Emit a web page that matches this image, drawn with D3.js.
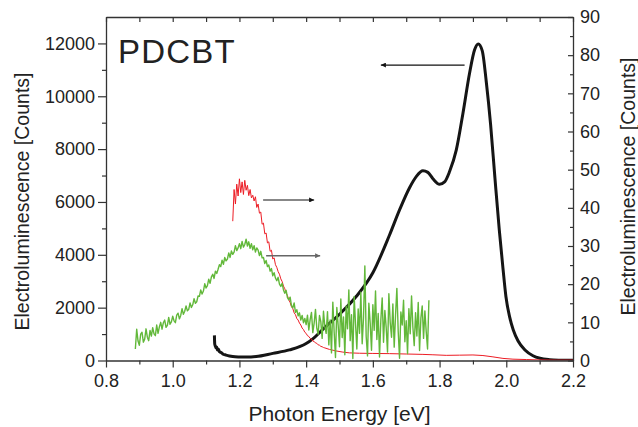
<!DOCTYPE html>
<html>
<head>
<meta charset="utf-8">
<script src="https://cdn.jsdelivr.net/npm/d3@7"></script>
<style>
  html, body { margin: 0; padding: 0; background: #fff; }
  svg { display: block; }
  text { font-family: Arial, "Liberation Sans", sans-serif; fill: #222; }
</style>
</head>
<body>
<svg id="chart" width="638" height="427"></svg>
<script>
// ---------------- DATA ----------------
const chartTitle = "PDCBT";
const xLabel = "Photon Energy [eV]";
const yLeftLabel = "Electroluminescence [Counts]";
const yRightLabel = "Electroluminescence [Counts]";

const xDomain = [0.8, 2.2];
const yLeftDomain = [0, 13000];
const yRightDomain = [0, 90];

const xTicks = [0.8, 1.0, 1.2, 1.4, 1.6, 1.8, 2.0, 2.2];
const xMinorTicks = [0.9, 1.1, 1.3, 1.5, 1.7, 1.9, 2.1];
const yLeftTicks = [0, 2000, 4000, 6000, 8000, 10000, 12000];
const yLeftMinorTicks = [1000, 3000, 5000, 7000, 9000, 11000];
const yRightTicks = [0, 10, 20, 30, 40, 50, 60, 70, 80, 90];
const yRightMinorTicks = [5, 15, 25, 35, 45, 55, 65, 75, 85];

// Black spectrum (left axis)
const blackEnergy = [1.125, 1.126, 1.128, 1.130, 1.132, 1.134, 1.137, 1.140, 1.145, 1.150, 1.160, 1.170, 1.180, 1.200, 1.220, 1.250, 1.300, 1.350, 1.400, 1.420, 1.450, 1.500, 1.550, 1.600, 1.650, 1.680, 1.710, 1.730, 1.750, 1.765, 1.780, 1.800, 1.815, 1.830, 1.850, 1.870, 1.890, 1.905, 1.916, 1.928, 1.940, 1.953, 1.966, 1.979, 1.990, 1.999, 2.010, 2.021, 2.035, 2.056, 2.080, 2.101, 2.130, 2.160, 2.200];
const blackCounts = [950, 620, 540, 470, 510, 400, 430, 330, 300, 250, 205, 170, 150, 135, 130, 150, 270, 400, 640, 820, 1180, 1750, 2420, 3320, 4750, 5700, 6540, 6960, 7180, 7120, 6880, 6670, 6760, 7150, 7960, 9350, 10880, 11760, 11980, 11720, 10550, 8930, 6900, 4940, 3500, 2415, 1650, 1155, 750, 397, 180, 83, 30, 12, 5];

// Green spectrum (right axis), sampled every 0.004 eV starting at 0.888 eV
const greenStart = 0.888;
const greenStep = 0.004;
const greenCounts = [
  3.0, 8.2, 5.1, 4.0, 6.9, 7.4, 4.8, 5.6, 8.3, 6.1, 5.2, 7.9, 6.4, 8.6, 7.0, 6.5,
  9.3, 7.1, 8.8, 10.0, 8.2, 9.9, 10.6, 8.7, 9.2, 11.3, 9.5, 10.1, 11.6, 10.4, 9.9, 11.9,
  12.4, 10.9, 11.8, 13.6, 12.1, 12.9, 14.3, 13.0, 13.4, 15.1, 13.9, 14.6, 16.2, 15.0, 15.4, 16.9,
  16.8, 18.5, 17.4, 18.2, 20.1, 19.0, 19.6, 21.3, 20.2, 21.9, 22.6, 21.5, 23.4, 22.8, 23.9, 25.1,
  24.6, 26.3, 25.2, 27.0, 26.1, 26.6, 28.2, 27.0, 28.7, 27.8, 28.4, 30.1, 28.8, 29.5, 30.6, 29.3,
  31.2, 29.7, 30.4, 31.8, 30.0, 31.1, 29.4, 30.6, 29.0, 30.1, 28.4, 29.5, 28.9, 27.5, 28.6, 26.9,
  27.0, 25.4, 26.2, 24.6, 25.0, 23.4, 24.1, 22.2, 23.0, 21.6, 20.9, 21.8, 20.0, 19.4, 20.2, 18.5,
  17.6, 18.4, 16.5, 15.9, 16.6, 14.4, 13.8, 15.1, 12.6, 13.3, 11.7, 12.5, 10.6, 11.8, 9.9, 11.0,
  9.4, 11.9, 8.0, 10.7, 12.6, 7.3, 9.8, 13.4, 8.4, 6.9, 11.8, 10.2, 5.8, 12.9, 8.8, 7.1,
  12.8, 4.1, 10.6, 2.0, 15.3, 7.4, 0.8, 13.9, 9.2, 3.6, 16.1, 6.0, 11.4, 1.5, 14.2, 8.3,
  18.5, 5.2, 12.0, 0.5, 16.8, 9.7, 3.0, 13.5, 7.1, 17.9, 4.4, 11.2, 24.8, 6.3, 1.2, 15.0,
  9.8, 2.7, 14.6, 7.9, 18.2, 5.5, 12.3, 0.9, 10.7, 16.4, 4.8, 13.1, 8.6, 2.2, 17.5, 10.0,
  6.1, 14.8, 3.5, 11.9, 18.9, 7.6, 0.6, 12.7, 9.3, 15.8, 4.9, 10.4, 1.8, 13.6, 7.0, 16.9,
  8.7, 3.9, 12.5, 6.4, 15.2, 2.6, 11.1, 14.3, 5.8, 13.0, 7.5, 3.0, 15.8
];

// Red spectrum (right axis): noisy part sampled every 0.004 eV from 1.180 eV, then smooth tail
const redStart = 1.180;
const redStep = 0.004;
const redCounts = [
  36.5, 44.8, 41.0, 46.2, 43.1, 47.6, 44.0, 46.8, 43.5, 47.2, 44.6, 45.9, 43.2, 44.8, 42.6, 43.3,
  41.8, 42.9, 40.1, 41.0, 38.6, 38.9, 35.7, 36.0, 33.2, 33.4, 30.8, 31.1, 28.6, 28.9, 26.6, 26.9,
  25.1, 24.4, 23.3, 22.6, 21.4, 20.7, 19.5, 18.8, 17.7, 17.0, 15.9, 15.2, 14.1, 13.6, 12.5, 12.0,
  11.0, 10.6, 9.8, 9.3, 8.5, 8.1, 7.4, 7.1, 6.5, 6.3, 5.8, 5.6, 5.1, 5.0, 4.6, 4.5,
  4.1, 4.0, 3.7, 3.6, 3.4, 3.3
];
const redTailEnergy = [1.47, 1.49, 1.51, 1.53, 1.56, 1.60, 1.65, 1.70, 1.75, 1.78, 1.82, 1.86, 1.90, 1.93, 1.96, 1.99, 2.02, 2.06, 2.10, 2.15, 2.20];
const redTailCounts = [2.9, 2.5, 2.2, 2.0, 1.9, 1.85, 1.8, 1.7, 1.6, 1.5, 1.35, 1.4, 1.45, 1.3, 0.95, 0.55, 0.35, 0.25, 0.15, 0.1, 0.1];

// Annotation arrows, in data units (energy from/to, height on the left axis)
const arrows = [
  { from: 1.875, to: 1.624, yLeft: 11180, color: "#111" },
  { from: 1.271, to: 1.424, yLeft: 6075, color: "#111" },
  { from: 1.280, to: 1.442, yLeft: 3965, color: "#666" }
];

// ---------------- CHART ----------------
const W = 638, H = 427;
const margin = { left: 106, top: 17, right: 65, bottom: 66.5 };
const iw = W - margin.left - margin.right;   // 467
const ih = H - margin.top - margin.bottom;   // 343.5

const svg = d3.select("#chart");
const g = svg.append("g").attr("transform", `translate(${margin.left},${margin.top})`);

const x = d3.scaleLinear().domain(xDomain).range([0, iw]);
const yL = d3.scaleLinear().domain(yLeftDomain).range([ih, 0]);
const yR = d3.scaleLinear().domain(yRightDomain).range([ih, 0]);

const blackData = blackEnergy.map((e, i) => [e, blackCounts[i]]);
const greenData = greenCounts.map((v, i) => [greenStart + i * greenStep, v]);
const redData = redCounts.map((v, i) => [redStart + i * redStep, v])
  .concat(redTailEnergy.map((e, i) => [e, redTailCounts[i]]));

const defs = svg.append("defs");
defs.append("clipPath").attr("id", "plotclip")
  .append("rect").attr("x", 0).attr("y", -2).attr("width", iw).attr("height", ih + 2);

const plot = g.append("g").attr("clip-path", "url(#plotclip)");

const lineL = d3.line().x(d => x(d[0])).y(d => yL(d[1])).curve(d3.curveMonotoneX);
const lineR = d3.line().x(d => x(d[0])).y(d => yR(d[1]));

plot.append("path").datum(blackData).attr("d", lineL)
  .attr("fill", "none").attr("stroke", "#151515").attr("stroke-width", 3).attr("stroke-linejoin", "round");
plot.append("path").datum(redData).attr("d", lineR)
  .attr("fill", "none").attr("stroke", "#ec1c24").attr("stroke-width", 1).attr("stroke-linejoin", "round");
plot.append("path").datum(greenData).attr("d", lineR)
  .attr("fill", "none").attr("stroke", "#62b83a").attr("stroke-width", 1.4).attr("stroke-linejoin", "round");

// arrows
arrows.forEach((a, i) => {
  defs.append("marker").attr("id", "ah" + i)
    .attr("viewBox", "0 0 10 10").attr("refX", 10).attr("refY", 5)
    .attr("markerWidth", 9).attr("markerHeight", 5).attr("markerUnits", "userSpaceOnUse")
    .attr("orient", "auto")
    .append("path").attr("d", "M0,0 L10,5 L0,10 z").attr("fill", a.color);
  g.append("line")
    .attr("x1", x(a.from)).attr("x2", x(a.to))
    .attr("y1", yL(a.yLeft)).attr("y2", yL(a.yLeft))
    .attr("stroke", a.color).attr("stroke-width", i === 2 ? 1.6 : 1.1)
    .attr("marker-end", `url(#ah${i})`);
});

// axes
const axisColor = "#333";
function styleAxis(sel) {
  sel.selectAll("path.domain").attr("stroke", axisColor).attr("stroke-width", 1.3);
  sel.selectAll(".tick line").attr("stroke", axisColor).attr("stroke-width", 1.2);
  sel.selectAll(".tick text").attr("font-size", 18)
    .attr("font-family", 'Arial, "Liberation Sans", sans-serif').attr("fill", "#222");
}

// bottom
g.append("g").attr("transform", `translate(0,${ih})`)
  .call(d3.axisBottom(x).tickValues(xTicks).tickSizeInner(7).tickSizeOuter(0).tickPadding(6.5).tickFormat(d3.format(".1f")))
  .call(styleAxis);
g.append("g").attr("transform", `translate(0,${ih})`)
  .call(d3.axisBottom(x).tickValues(xMinorTicks).tickSizeInner(4).tickSizeOuter(0).tickFormat(""))
  .call(styleAxis).call(s => s.select("path.domain").remove());
// top
g.append("g")
  .call(d3.axisTop(x).tickValues(xTicks.concat(xMinorTicks)).tickSizeInner(-5).tickSizeOuter(0).tickFormat(""))
  .call(styleAxis);
// left
g.append("g")
  .call(d3.axisLeft(yL).tickValues(yLeftTicks).tickSizeInner(8).tickSizeOuter(0).tickPadding(3).tickFormat(d3.format("d")))
  .call(styleAxis);
g.append("g")
  .call(d3.axisLeft(yL).tickValues(yLeftMinorTicks).tickSizeInner(4).tickSizeOuter(0).tickFormat(""))
  .call(styleAxis).call(s => s.select("path.domain").remove());
// right
g.append("g").attr("transform", `translate(${iw},0)`)
  .call(d3.axisRight(yR).tickValues(yRightTicks).tickSizeInner(-5).tickSizeOuter(0).tickPadding(7).tickFormat(d3.format("d")))
  .call(styleAxis);
g.append("g").attr("transform", `translate(${iw},0)`)
  .call(d3.axisRight(yR).tickValues(yRightMinorTicks).tickSizeInner(-3).tickSizeOuter(0).tickFormat(""))
  .call(styleAxis).call(s => s.select("path.domain").remove());

// titles
svg.append("text").attr("x", 118).attr("y", 63)
  .attr("font-size", 33).attr("letter-spacing", 1.2).text(chartTitle);

svg.append("text").attr("x", margin.left + iw / 2).attr("y", 421)
  .attr("text-anchor", "middle").attr("font-size", 21).text(xLabel);

svg.append("text").attr("transform", "translate(28.5,201.5) rotate(-90)")
  .attr("text-anchor", "middle").attr("font-size", 19.5).text(yLeftLabel);

svg.append("text").attr("transform", "translate(634.5,186.5) rotate(-90)")
  .attr("text-anchor", "middle").attr("font-size", 19.5).text(yRightLabel);
</script>
</body>
</html>
